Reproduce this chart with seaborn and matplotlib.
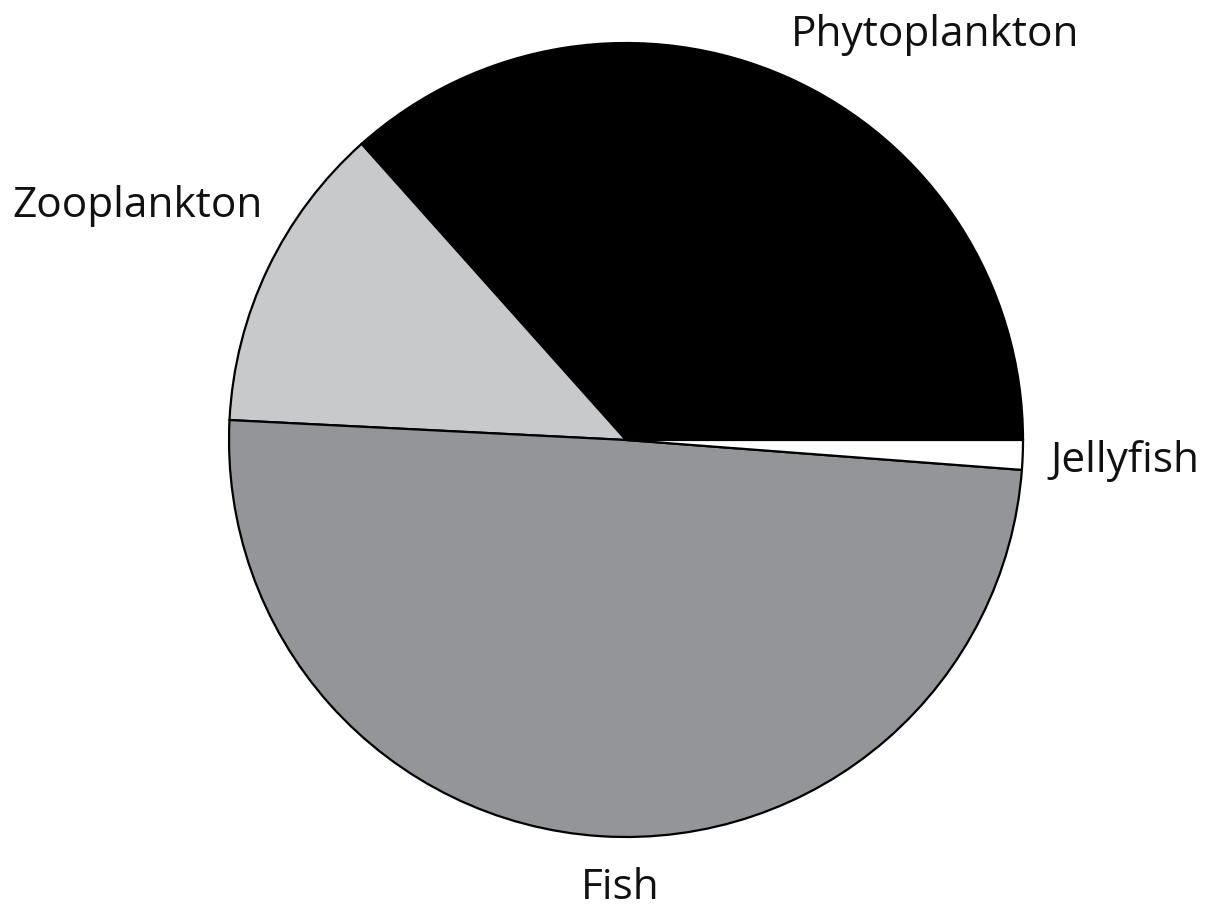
import matplotlib
matplotlib.use("Agg")
import matplotlib.pyplot as plt
import seaborn as sns

# Share of biomass by group
groups = ["Phytoplankton", "Zooplankton", "Fish", "Jellyfish"]
shares = [36.6, 12.6, 49.6, 1.2]
colors = ["#000000", "#c8c9cb", "#939598", "#ffffff"]

sns.set_theme(style="white")
plt.rcParams["font.family"] = ["Open Sans", "DejaVu Sans"]

W, H = 1228, 911
fig = plt.figure(figsize=(W / 100, H / 100), dpi=100)
ax = fig.add_axes([0, 0, 1, 1])

cx, cy, r = 626, H - 440, 397
ax.pie(shares, colors=colors, startangle=0, counterclock=True,
       center=(cx, cy), radius=r, frame=True,
       wedgeprops=dict(edgecolor="black", linewidth=1.6))
ax.set_xlim(0, W)
ax.set_ylim(0, H)
ax.set_aspect("equal")
ax.axis("off")

label_pos = {
    "Phytoplankton": (935, H - 35),
    "Zooplankton": (138, H - 206),
    "Fish": (620, H - 888),
    "Jellyfish": (1125, H - 461),
}
for g in groups:
    x, y = label_pos[g]
    ax.text(x, y, g, ha="center", va="center", fontsize=30.5, color="#111111")

fig.savefig("out.png", dpi=100, facecolor="white")
